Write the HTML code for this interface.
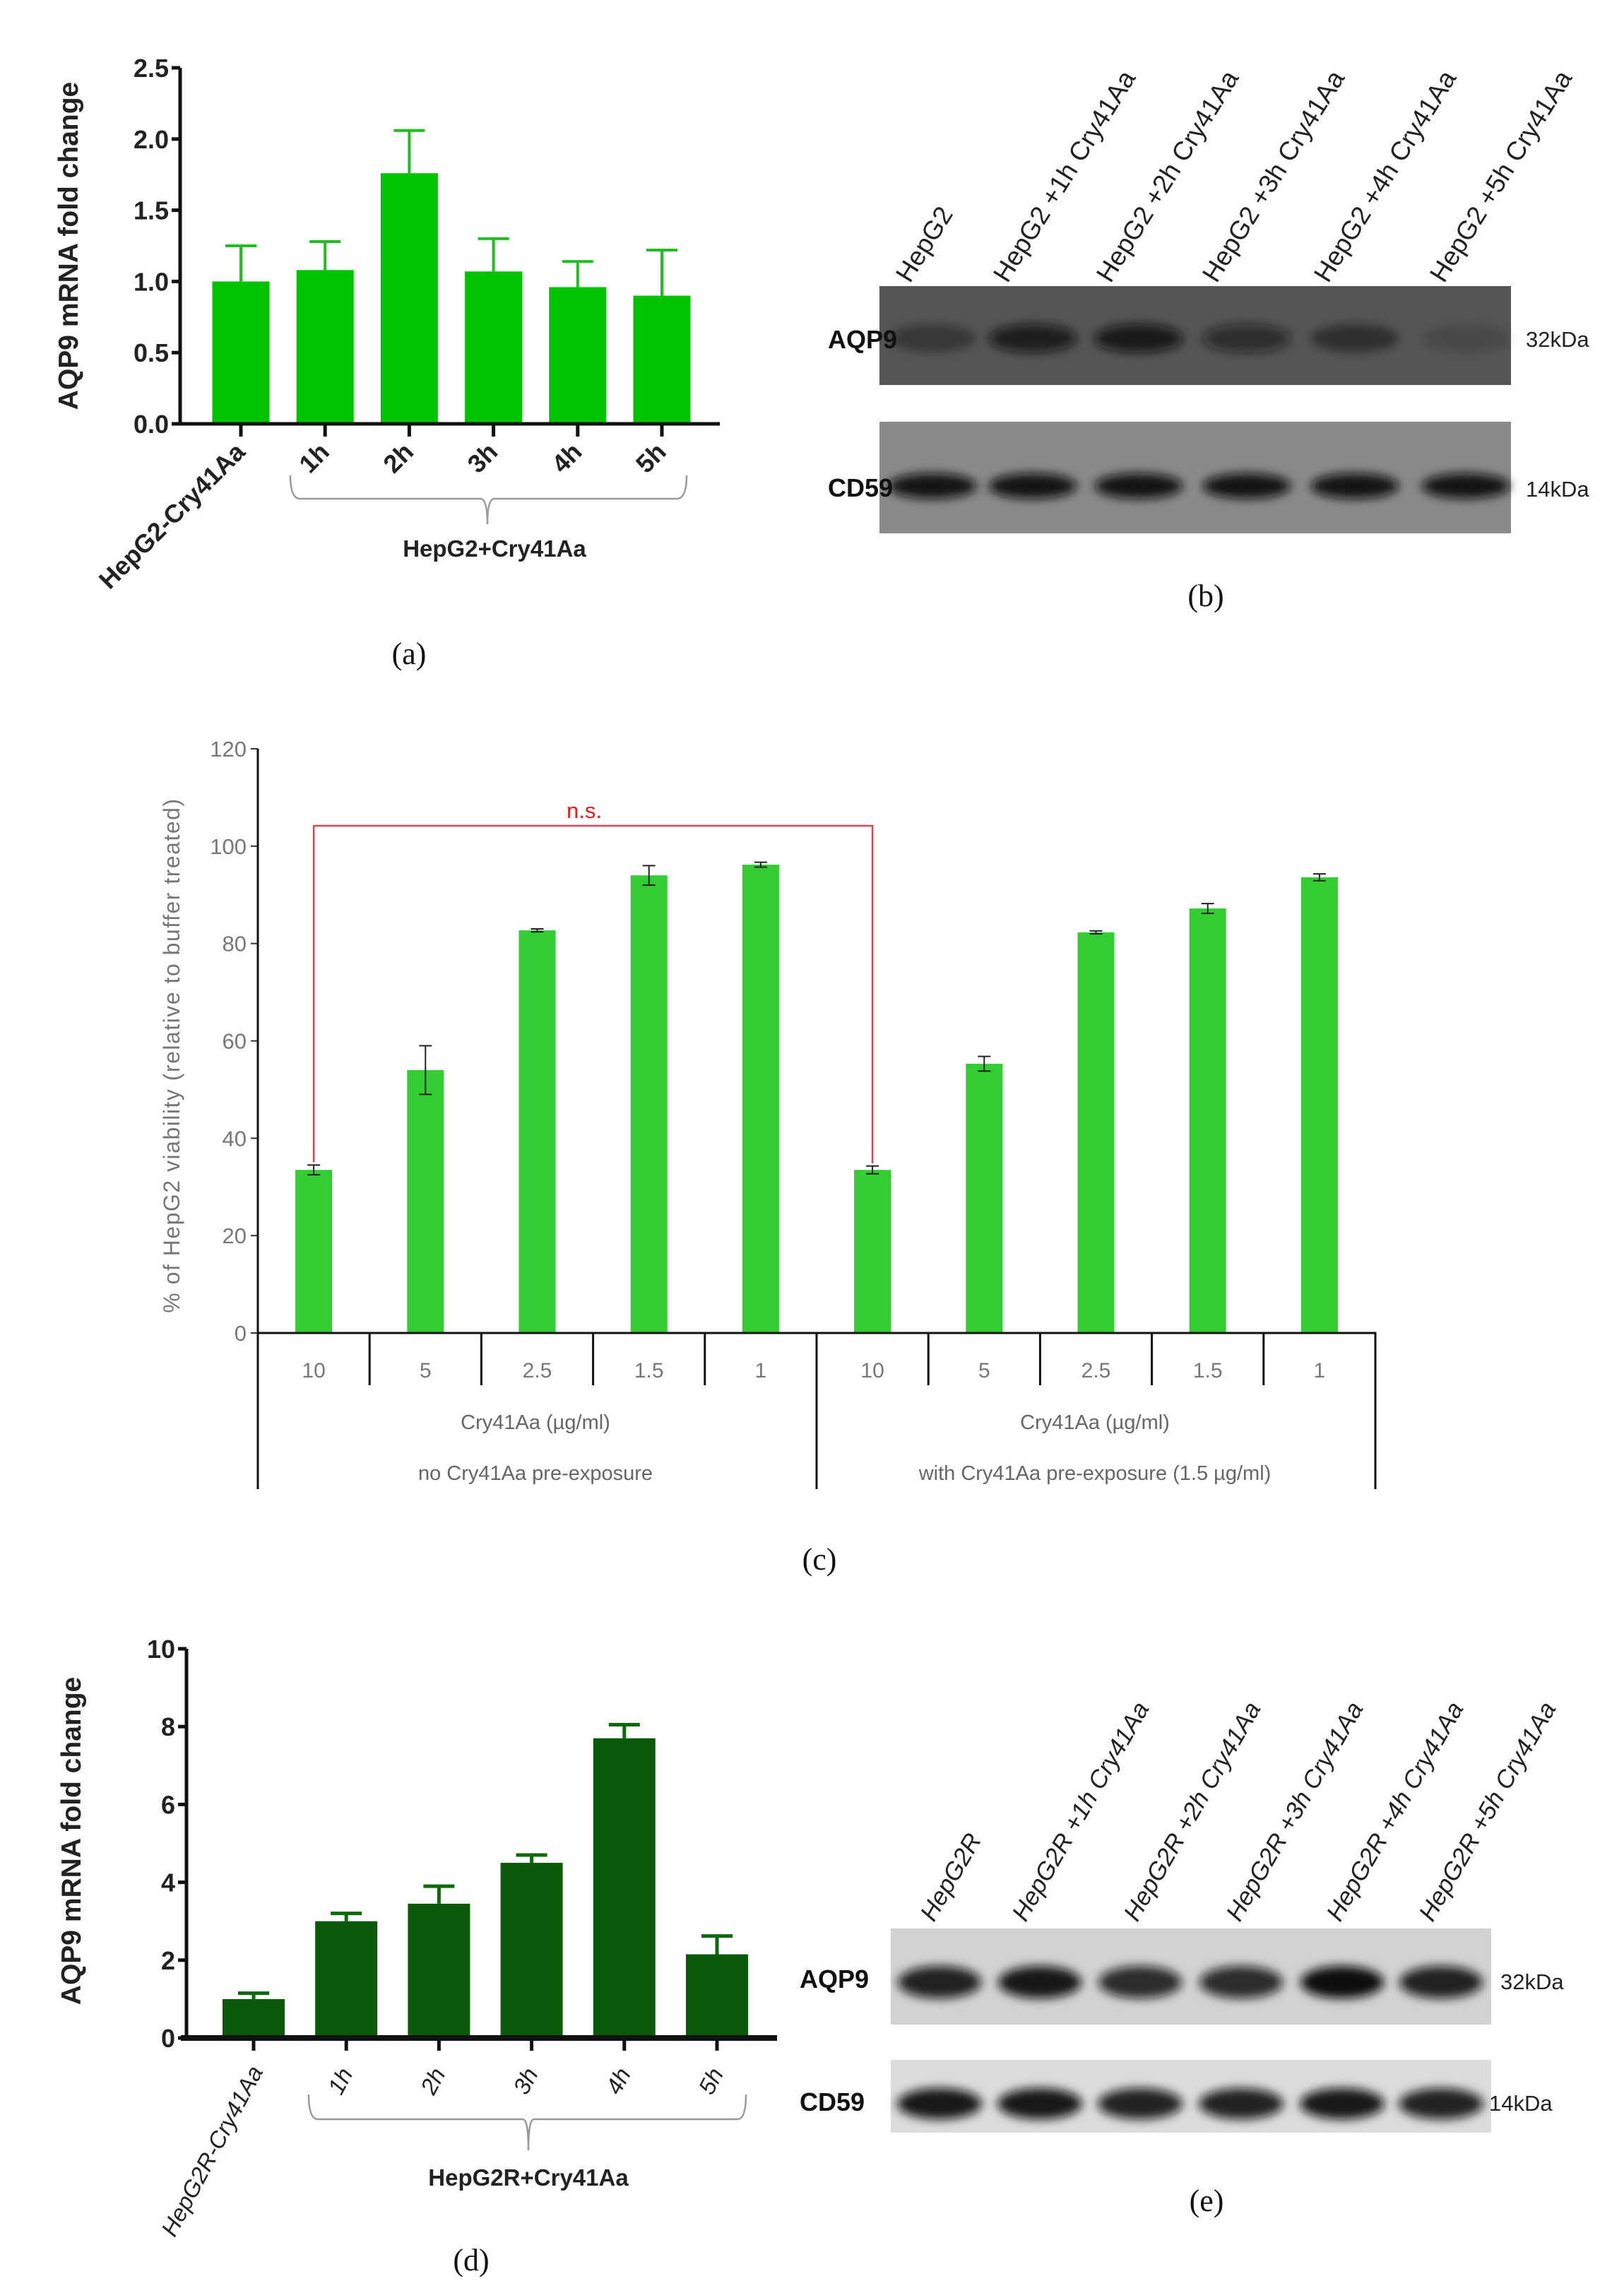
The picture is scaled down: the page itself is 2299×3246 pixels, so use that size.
<!DOCTYPE html>
<html><head><meta charset="utf-8"><style>
html,body{margin:0;padding:0;background:#fff}
svg{display:block}
text{font-family:"Liberation Sans",Arial,sans-serif}
.ser{font-family:"Liberation Serif",serif}
</style></head><body>
<svg id="s" width="2299" height="3246" viewBox="0 0 2299 3246" xmlns="http://www.w3.org/2000/svg">
<defs>
<filter id="blur" x="-20%" y="-50%" width="140%" height="200%"><feGaussianBlur stdDeviation="7"/></filter>
</defs>
</svg>
<script>
// Panel a data
const aCats=['HepG2-Cry41Aa','1h','2h','3h','4h','5h'];
const aVals=[1.0,1.08,1.76,1.07,0.96,0.90];
const aErr=[0.25,0.20,0.30,0.23,0.18,0.32];
const aTicks=[0,0.5,1.0,1.5,2.0,2.5];
// Panel c data
const cCats=['10','5','2.5','1.5','1','10','5','2.5','1.5','1'];
const cVals=[33.5,54,82.7,94,96.2,33.5,55.3,82.3,87.2,93.6];
const cErr=[1.0,5.0,0.3,2.0,0.5,0.8,1.5,0.3,1.0,0.7];
const cTicks=[0,20,40,60,80,100,120];
// Panel d data
const dCats=['HepG2R-Cry41Aa','1h','2h','3h','4h','5h'];
const dVals=[1.0,3.0,3.45,4.5,7.7,2.15];
const dErr=[0.15,0.2,0.45,0.2,0.35,0.47];
const dTicks=[0,2,4,6,8,10];
// Blot band intensities (0..1)
const bAqp=[0.35,0.8,0.85,0.6,0.45,0.15];
const bCd=[0.95,0.95,0.95,0.95,0.95,0.95];
const eAqp=[0.9,0.95,0.85,0.85,1.0,0.9];
const eCd=[0.95,0.95,0.9,0.9,0.95,0.9];

const S=document.getElementById('s');
const NS='http://www.w3.org/2000/svg';
function el(tag,attrs,parent){const e=document.createElementNS(NS,tag);for(const k in attrs)e.setAttribute(k,attrs[k]);(parent||S).appendChild(e);return e;}
function txt(str,attrs,parent){const t=el('text',attrs,parent);t.textContent=str;return t;}

// ---------- Panel a ----------
(function(){
const g=el('g',{});


const x0=255,y0=600,yTop=96,ymax=2.5;
const ys=v=>y0-(v/ymax)*(y0-yTop);
const xs=i=>341+i*119.2;
aTicks.forEach(t=>{
 const l=el('line',{x1:x0-12,x2:x0,y1:ys(t),y2:ys(t),stroke:'#111','stroke-width':5},g);
 
 
 const tx=txt(t.toFixed(1),{x:x0-16,y:ys(t)+13,'text-anchor':'end','font-size':36,'font-weight':'bold',fill:'#222'},g);
 
 
});
aVals.forEach((v,i)=>{
 const x=xs(i),w=81;
 const ev=v+aErr[i];
 const e1=el('line',{x1:x,x2:x,y1:ys(v),y2:ys(ev),stroke:'#1fbf1f','stroke-width':4},g);
 
 
 const e2=el('line',{x1:x-22,x2:x+22,y1:ys(ev),y2:ys(ev),stroke:'#1fbf1f','stroke-width':4},g);
 
 
 const r=el('rect',{x:x-w/2,y:ys(v),width:w,height:y0-ys(v),fill:'#00c400'},g);
 
 
 const tk=el('line',{x1:x,x2:x,y1:y0,y2:y0+18,stroke:'#111','stroke-width':5},g);
 
 
 const lab=txt(aCats[i],{x:x+8,y:y0+42,'text-anchor':'end','font-size':36,'font-weight':'bold',fill:'#222',transform:`rotate(-45 ${x+8} ${y0+42})`},g);
 
 
});
const ax=el('path',{d:`M${x0} ${yTop} V${y0} H1019`,fill:'none',stroke:'#111','stroke-width':5},g);


const br=el('path',{d:'M411 673 Q411 706 425 706 H680 Q690 706 690 742 Q690 706 700 706 H958 Q972 706 972 673',fill:'none',stroke:'#999','stroke-width':2.5},g);


const gl=txt('HepG2+Cry41Aa',{x:700,y:788,'text-anchor':'middle','font-size':33,'font-weight':'bold',fill:'#222'},g);


const yt=txt('AQP9 mRNA fold change',{x:110,y:348,'text-anchor':'middle','font-size':39,'font-weight':'bold',fill:'#222',transform:'rotate(-90 110 348)'},g);


const pl=txt('(a)',{x:579,y:940,'text-anchor':'middle','font-size':44,fill:'#111',class:'ser'},g);


})();

// ---------- Blot helper ----------
function blot(name,box,centers,bandY,bandH,bandW,ints,bg){
 const g=el('g',{});
 
 
 const r=el('rect',{x:box[0],y:box[1],width:box[2],height:box[3],fill:bg},g);
 
 
 centers.forEach((c,i)=>{
  const e=el('ellipse',{cx:c,cy:bandY,rx:bandW/2,ry:bandH/2,fill:'#0d0d0d','fill-opacity':ints[i],filter:'url(#blur)'},g);
  
  
 });
 return g;
}

// ---------- Panel b ----------
(function(){
const lanes=['HepG2','HepG2 +1h Cry41Aa','HepG2 +2h Cry41Aa','HepG2 +3h Cry41Aa','HepG2 +4h Cry41Aa','HepG2 +5h Cry41Aa'];
const cx=[1320,1462,1612,1765,1918,2075];
const starts=[1288,1426,1572,1722,1880,2044];
lanes.forEach((l,i)=>{
 const t=txt(l,{x:starts[i],y:402,'font-size':37,fill:'#222',transform:`rotate(-58 ${starts[i]} 402)`});
 
 
});
blot('b-aqp9-blot',[1245,405,894,140],cx,479,40,125,bAqp,'#555');
blot('b-cd59-blot',[1245,597,894,158],cx,688,36,125,bCd,'#8a8a8a');
[['AQP9',1172,493],['CD59',1172,703]].forEach(a=>{const t=txt(a[0],{x:a[1],y:a[2],'font-size':36,'font-weight':'bold',fill:'#111'});});
[['32kDa',2160,491],['14kDa',2160,703]].forEach(a=>{const t=txt(a[0],{x:a[1],y:a[2],'font-size':31,fill:'#222'});});
const pl=txt('(b)',{x:1707,y:858,'text-anchor':'middle','font-size':44,fill:'#111',class:'ser'});


})();

// ---------- Panel c ----------
(function(){
const g=el('g',{});


const x0=365,y0=1887,yTop=1060,ymax=120,step=158.2;
const ys=v=>y0-(v/ymax)*(y0-yTop);
const xs=i=>x0+step*(i+0.5);
cTicks.forEach(t=>{
 const l=el('line',{x1:x0-10,x2:x0,y1:ys(t),y2:ys(t),stroke:'#333','stroke-width':2},g);
 
 
 const tx=txt(String(t),{x:x0-16,y:ys(t)+11,'text-anchor':'end','font-size':31,fill:'#777'},g);
 
 
});
cVals.forEach((v,i)=>{
 const x=xs(i),w=52;
 const r=el('rect',{x:x-w/2,y:ys(v),width:w,height:y0-ys(v),fill:'#33cc33'},g);
 
 
 const e=el('path',{d:`M${x} ${ys(v+cErr[i])} V${ys(v-cErr[i])} M${x-9} ${ys(v+cErr[i])} H${x+9} M${x-9} ${ys(v-cErr[i])} H${x+9}`,stroke:'#222','stroke-width':2,fill:'none'},g);
 
 
 const lab=txt(cCats[i],{x:x,y:1950,'text-anchor':'middle','font-size':30,fill:'#777'},g);
 
 
 if(i>0){const d=el('line',{x1:x0+step*i,x2:x0+step*i,y1:y0,y2:i==5?2108:1961,stroke:'#111','stroke-width':3},g);}
});
const ax=el('path',{d:`M${x0} ${yTop} V2108 M${x0} ${y0} H1947 V2108`,fill:'none',stroke:'#111','stroke-width':3},g);


[['Cry41Aa (µg/ml)',758,2023],['no Cry41Aa pre-exposure',758,2095],['Cry41Aa (µg/ml)',1550,2023],['with Cry41Aa pre-exposure (1.5 µg/ml)',1550,2095]].forEach(a=>{
 const t=txt(a[0],{x:a[1],y:a[2],'text-anchor':'middle','font-size':29,fill:'#666'},g);
 
 
});
const ns=el('path',{d:`M${xs(0)} ${ys(cVals[0]+cErr[0])-4} V1169 H${xs(5)} V${ys(cVals[5]+cErr[5])-4}`,fill:'none',stroke:'#e8404a','stroke-width':2.5},g);


const nst=txt('n.s.',{x:827,y:1158,'text-anchor':'middle','font-size':31,fill:'#e02020'},g);


const yt=txt('% of HepG2 viability (relative to buffer treated)',{x:254,y:1494,'text-anchor':'middle','font-size':32,fill:'#777','letter-spacing':'1.5',transform:'rotate(-90 254 1494)'},g);


const pl=txt('(c)',{x:1160,y:2222,'text-anchor':'middle','font-size':44,fill:'#111',class:'ser'},g);


})();

// ---------- Panel d ----------
(function(){
const g=el('g',{});


const x0=264,y0=2885,yTop=2334,ymax=10;
const ys=v=>y0-(v/ymax)*(y0-yTop);
const xs=i=>359+i*131.2;
dTicks.forEach(t=>{
 const l=el('line',{x1:x0-12,x2:x0,y1:ys(t),y2:ys(t),stroke:'#111','stroke-width':5},g);
 
 
 const tx=txt(String(t),{x:x0-16,y:ys(t)+13,'text-anchor':'end','font-size':36,'font-weight':'bold',fill:'#222'},g);
 
 
});
dVals.forEach((v,i)=>{
 const x=xs(i),w=88,ev=v+dErr[i];
 const e1=el('path',{d:`M${x} ${ys(v)} V${ys(ev)} M${x-22} ${ys(ev)} H${x+22}`,stroke:'#0b6a0b','stroke-width':5,fill:'none'},g);
 
 
 const r=el('rect',{x:x-w/2,y:ys(v),width:w,height:y0-ys(v),fill:'#0a5a0a'},g);
 
 
 const tk=el('line',{x1:x,x2:x,y1:y0,y2:y0+18,stroke:'#111','stroke-width':5},g);
 
 
 const lx=i==0?x+14:x+10, ly=i==0?2932:2935;
 const lab=txt(dCats[i],{x:lx,y:ly,'text-anchor':'end','font-size':33,'font-style':'italic',fill:'#222',transform:`rotate(-62 ${lx} ${ly})`},g);
 
 
});
const ax=el('path',{d:`M${x0} ${yTop} V${y0}`,fill:'none',stroke:'#111','stroke-width':5},g);


const xa=el('line',{x1:x0-8,x2:1100,y1:y0,y2:y0,stroke:'#111','stroke-width':8},g);


const br=el('path',{d:'M437 2965 Q437 3000 450 3000 H740 Q748 3000 748 3044 Q748 3000 756 3000 H1044 Q1056 3000 1056 2965',fill:'none',stroke:'#999','stroke-width':2.5},g);


const gl=txt('HepG2R+Cry41Aa',{x:748,y:3094,'text-anchor':'middle','font-size':33,'font-weight':'bold',fill:'#222'},g);


const yt=txt('AQP9 mRNA fold change',{x:114,y:2606,'text-anchor':'middle','font-size':39,'font-weight':'bold',fill:'#222',transform:'rotate(-90 114 2606)'},g);


const pl=txt('(d)',{x:667,y:3214,'text-anchor':'middle','font-size':44,fill:'#111',class:'ser'},g);


})();

// ---------- Panel e ----------
(function(){
const lanes=['HepG2R','HepG2R +1h Cry41Aa','HepG2R +2h Cry41Aa','HepG2R +3h Cry41Aa','HepG2R +4h Cry41Aa','HepG2R +5h Cry41Aa'];
const cx=[1330,1472,1614,1757,1900,2040];
const starts=[1322,1452,1610,1755,1897,2028];
lanes.forEach((l,i)=>{
 const t=txt(l,{x:starts[i],y:2722,'font-size':35,'font-style':'italic',fill:'#222',transform:`rotate(-60 ${starts[i]} 2722)`});
 
 
});
blot('e-aqp9-blot',[1261,2730,850,136],cx,2806,46,118,eAqp,'#d2d2d2');
blot('e-cd59-blot',[1261,2916,850,103],cx,2978,44,120,eCd,'#dcdcdc');
[['AQP9',1132,2814],['CD59',1132,2988]].forEach(a=>{const t=txt(a[0],{x:a[1],y:a[2],'font-size':36,'font-weight':'bold',fill:'#111'});});
[['32kDa',2124,2816],['14kDa',2108,2988]].forEach(a=>{const t=txt(a[0],{x:a[1],y:a[2],'font-size':31,fill:'#222'});});
const pl=txt('(e)',{x:1708,y:3130,'text-anchor':'middle','font-size':44,fill:'#111',class:'ser'});


})();
</script>
</body></html>
